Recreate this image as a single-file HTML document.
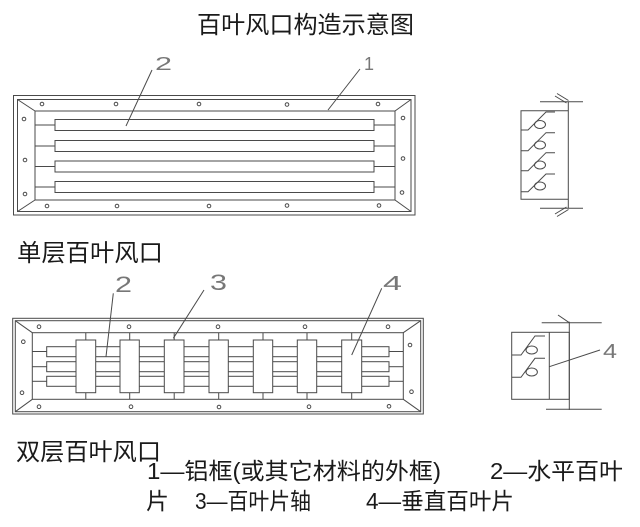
<!DOCTYPE html>
<html>
<head>
<meta charset="utf-8">
<style>
html,body{margin:0;padding:0;background:#fff;}
svg{display:block;}
.t{font-family:"Liberation Sans","Noto Sans CJK SC",sans-serif;fill:#1a1a1a;}
.n{font-family:"Liberation Sans",sans-serif;fill:#777;}
</style>
</head>
<body>
<svg width="640" height="527" viewBox="0 0 640 527" xmlns="http://www.w3.org/2000/svg">
<rect width="640" height="527" fill="#fff"/>
<text class="t" x="197" y="33" font-size="24" textLength="217" lengthAdjust="spacingAndGlyphs">百叶风口构造示意图</text>

<g fill="none" stroke="#4a4a4a" stroke-width="1">
  <!-- TOP frame -->
  <rect x="13.5" y="95.5" width="401.5" height="119.5"/>
  <rect x="17.5" y="99.5" width="393.5" height="112"/>
  <rect x="35" y="111" width="360" height="89"/>
  <line x1="17.5" y1="99.5" x2="35" y2="111"/>
  <line x1="411" y1="99.5" x2="395" y2="111"/>
  <line x1="17.5" y1="211.5" x2="35" y2="200"/>
  <line x1="411" y1="211.5" x2="395" y2="200"/>
  <!-- blades -->
  <rect x="55" y="119.5" width="319" height="11"/>
  <rect x="55" y="140.5" width="319" height="11"/>
  <rect x="55" y="161" width="319" height="11"/>
  <rect x="55" y="181.5" width="319" height="11"/>
  <line x1="35" y1="125" x2="55" y2="125"/><line x1="374" y1="125" x2="395" y2="125"/>
  <line x1="35" y1="146" x2="55" y2="146"/><line x1="374" y1="146" x2="395" y2="146"/>
  <line x1="35" y1="166.5" x2="55" y2="166.5"/><line x1="374" y1="166.5" x2="395" y2="166.5"/>
  <line x1="35" y1="187" x2="55" y2="187"/><line x1="374" y1="187" x2="395" y2="187"/>
  <!-- holes -->
  <circle cx="42" cy="104" r="1.8"/><circle cx="116" cy="104" r="1.8"/><circle cx="199" cy="104" r="1.8"/><circle cx="287" cy="104.5" r="1.8"/><circle cx="378" cy="104" r="1.8"/>
  <circle cx="47" cy="206" r="1.8"/><circle cx="117" cy="206" r="1.8"/><circle cx="209" cy="206" r="1.8"/><circle cx="287" cy="205.5" r="1.8"/><circle cx="379" cy="205.5" r="1.8"/>
  <circle cx="24" cy="119" r="1.8"/><circle cx="25" cy="160" r="1.8"/><circle cx="25" cy="194" r="1.8"/>
  <circle cx="403" cy="118" r="1.8"/><circle cx="403" cy="158.5" r="1.8"/><circle cx="402" cy="192.5" r="1.8"/>
  <!-- leaders -->
  <line x1="152" y1="70" x2="126" y2="126"/>
  <line x1="360" y1="69" x2="328" y2="110"/>

  <!-- TOP side view -->
  <polyline points="568.3,110.7 521,110.7 521,199.3 568.3,199.3"/>
  <line x1="568.3" y1="101.7" x2="568.3" y2="208.3"/>
  <line x1="540" y1="101.7" x2="583" y2="101.7"/>
  <line x1="540" y1="208.3" x2="583" y2="208.3"/>
  <line x1="555" y1="96" x2="566.5" y2="103"/>
  <line x1="557" y1="93.5" x2="568.5" y2="100.5"/>
  <line x1="555" y1="214" x2="566.5" y2="207"/>
  <line x1="557" y1="216.5" x2="568.5" y2="209.5"/>
  <polyline points="521,130 528,130 546,112 555,112"/>
  <ellipse cx="540" cy="124.5" rx="5.5" ry="4"/>
  <polyline points="521,150.7 528,150.7 546,132.7 555,132.7"/>
  <ellipse cx="540" cy="145" rx="5.5" ry="4"/>
  <polyline points="521,170.7 528,170.7 546,152.7 555,152.7"/>
  <ellipse cx="540" cy="165" rx="5.5" ry="4"/>
  <polyline points="521,191.7 528,191.7 546,174 555,174"/>
  <ellipse cx="540" cy="186" rx="5.5" ry="4"/>

  <!-- BOTTOM frame -->
  <rect x="12.7" y="318.3" width="410.6" height="95.7"/>
  <rect x="15.3" y="320.7" width="405.4" height="91"/>
  <rect x="32.3" y="332.7" width="371" height="66.6"/>
  <line x1="15.3" y1="320.7" x2="32.3" y2="332.7"/>
  <line x1="420.7" y1="320.7" x2="403.3" y2="332.7"/>
  <line x1="15.3" y1="411.7" x2="32.3" y2="399.3"/>
  <line x1="420.7" y1="411.7" x2="403.3" y2="399.3"/>
  <rect x="46.7" y="346.7" width="342.3" height="10"/>
  <rect x="46.7" y="361.7" width="342.3" height="10"/>
  <rect x="46.7" y="376.3" width="342.3" height="10"/>
  <line x1="32.3" y1="351.5" x2="46.7" y2="351.5"/><line x1="389" y1="351.5" x2="403.3" y2="351.5"/>
  <line x1="32.3" y1="366.7" x2="46.7" y2="366.7"/><line x1="389" y1="366.7" x2="403.3" y2="366.7"/>
  <line x1="32.3" y1="381.3" x2="46.7" y2="381.3"/><line x1="389" y1="381.3" x2="403.3" y2="381.3"/>
  <!-- vertical blades -->
  <g fill="#fff">
    <rect x="76" y="340" width="19.7" height="52.7"/>
    <rect x="120" y="340" width="19.3" height="52.7"/>
    <rect x="164.3" y="340" width="19.7" height="52.7"/>
    <rect x="209" y="340" width="19.3" height="52.7"/>
    <rect x="253.3" y="340" width="19.4" height="52.7"/>
    <rect x="297.3" y="340" width="19.4" height="52.7"/>
    <rect x="341.7" y="340" width="20" height="52.7"/>
  </g>
  <line x1="85.8" y1="332.7" x2="85.8" y2="340"/><line x1="85.8" y1="392.7" x2="85.8" y2="399.3"/>
  <line x1="129.7" y1="332.7" x2="129.7" y2="340"/><line x1="129.7" y1="392.7" x2="129.7" y2="399.3"/>
  <line x1="174.2" y1="332.7" x2="174.2" y2="340"/><line x1="174.2" y1="392.7" x2="174.2" y2="399.3"/>
  <line x1="218.7" y1="332.7" x2="218.7" y2="340"/><line x1="218.7" y1="392.7" x2="218.7" y2="399.3"/>
  <line x1="263" y1="332.7" x2="263" y2="340"/><line x1="263" y1="392.7" x2="263" y2="399.3"/>
  <line x1="307" y1="332.7" x2="307" y2="340"/><line x1="307" y1="392.7" x2="307" y2="399.3"/>
  <line x1="351.7" y1="332.7" x2="351.7" y2="340"/><line x1="351.7" y1="392.7" x2="351.7" y2="399.3"/>
  <!-- holes -->
  <circle cx="39" cy="326.7" r="1.8"/><circle cx="129" cy="326.7" r="1.8"/><circle cx="218" cy="326.7" r="1.8"/><circle cx="305" cy="326.7" r="1.8"/><circle cx="388" cy="326.7" r="1.8"/>
  <circle cx="39" cy="406.7" r="1.8"/><circle cx="131" cy="406.7" r="1.8"/><circle cx="219" cy="407" r="1.8"/><circle cx="309" cy="406.7" r="1.8"/><circle cx="389" cy="406.3" r="1.8"/>
  <circle cx="23.3" cy="341.7" r="1.8"/><circle cx="22" cy="392.7" r="1.8"/>
  <circle cx="410" cy="345" r="1.8"/><circle cx="411.5" cy="391.7" r="1.8"/>
  <!-- leaders -->
  <line x1="113.3" y1="293.3" x2="106" y2="356.7"/>
  <line x1="204" y1="290" x2="173.3" y2="338.3"/>
  <line x1="381.7" y1="288.3" x2="351.7" y2="355"/>

  <!-- BOTTOM side view -->
  <rect x="511.7" y="332.3" width="57.6" height="67"/>
  <line x1="549.3" y1="332.3" x2="549.3" y2="399.3"/>
  <line x1="569.3" y1="321.7" x2="569.3" y2="410"/>
  <line x1="541.7" y1="322.7" x2="601.7" y2="322.7"/>
  <line x1="546" y1="409.3" x2="601.7" y2="409.3"/>
  <line x1="558" y1="315" x2="569.3" y2="322.7"/>
  <polyline points="511.7,355 521,355 535,336 545,336"/>
  <ellipse cx="531.7" cy="350" rx="5.7" ry="4"/>
  <polyline points="511.7,377.3 521,377.3 535,358.3 545,358.3"/>
  <ellipse cx="531.7" cy="372" rx="5.7" ry="4"/>
  <line x1="600" y1="350" x2="549.3" y2="366.7"/>
</g>

<!-- numbers -->
<text class="n" x="155" y="70" font-size="18" textLength="17" lengthAdjust="spacingAndGlyphs">2</text>
<text class="n" x="364" y="70" font-size="18">1</text>
<text class="n" x="115" y="292" font-size="22" textLength="17" lengthAdjust="spacingAndGlyphs">2</text>
<text class="n" x="210" y="290" font-size="22" textLength="17" lengthAdjust="spacingAndGlyphs">3</text>
<text class="n" x="383" y="290" font-size="20" textLength="19" lengthAdjust="spacingAndGlyphs">4</text>
<text class="n" x="603" y="358" font-size="20" textLength="14" lengthAdjust="spacingAndGlyphs">4</text>

<!-- labels -->
<text class="t" x="17" y="261" font-size="24" textLength="146" lengthAdjust="spacingAndGlyphs">单层百叶风口</text>
<text class="t" x="16" y="460" font-size="24" textLength="145" lengthAdjust="spacingAndGlyphs">双层百叶风口</text>

<text class="t" x="147" y="479" font-size="23" textLength="294" lengthAdjust="spacingAndGlyphs">1—铝框(或其它材料的外框)</text>
<text class="t" x="490" y="479" font-size="23" textLength="133" lengthAdjust="spacingAndGlyphs">2—水平百叶</text>
<text class="t" x="146" y="509" font-size="23">片</text>
<text class="t" x="195" y="509" font-size="23" textLength="116" lengthAdjust="spacingAndGlyphs">3—百叶片轴</text>
<text class="t" x="366" y="509" font-size="23" textLength="148" lengthAdjust="spacingAndGlyphs">4—垂直百叶片</text>
</svg>
</body>
</html>
